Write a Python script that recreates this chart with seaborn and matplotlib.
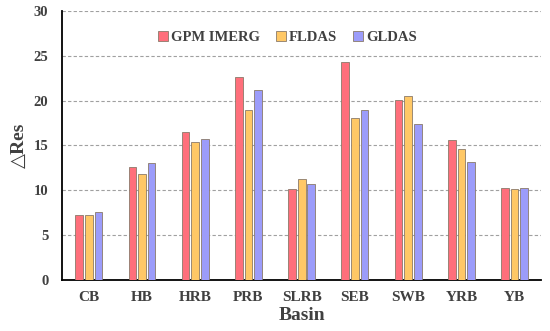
import pandas as pd
import matplotlib
matplotlib.use('Agg')
import matplotlib.pyplot as plt
import seaborn as sns

# Datos
basins = ['CB', 'HB', 'HRB', 'PRB', 'SLRB', 'SEB', 'SWB', 'YRB', 'YB']
gpm_imerg = [7.3, 12.6, 16.5, 22.6, 10.2, 24.3, 20.1, 15.6, 10.3]
fldas = [7.3, 11.8, 15.4, 19.0, 11.3, 18.1, 20.5, 14.6, 10.1]
gldas = [7.6, 13.0, 15.7, 21.2, 10.7, 18.9, 17.4, 13.2, 10.3]
products = ['GPM IMERG', 'FLDAS', 'GLDAS']
colors = ['#FF6F7B', '#FFC866', '#9C9CFA']

df = pd.DataFrame({
    'Basin': basins * 3,
    'Res': gpm_imerg + fldas + gldas,
    'Product': [p for p in products for _ in basins],
})

sns.set_style('white')
plt.rcParams['font.family'] = ['Liberation Serif', 'DejaVu Serif']
text_col = '#404040'

fig = plt.figure(figsize=(5.5, 3.31), dpi=100)
ax = fig.add_axes([0.113, 0.154, 0.871, 0.813])

sns.barplot(data=df, x='Basin', y='Res', hue='Product', palette=colors,
            saturation=1, width=0.54, gap=0.2, edgecolor='#8a7a6a', linewidth=0.6,
            ax=ax, zorder=3)

ax.set_ylim(0, 30)
ax.set_yticks(range(0, 31, 5))
ax.set_xlim(-0.5, 8.5)
ax.yaxis.grid(True, linestyle=(0, (3, 2)), color='#a0a0a0', linewidth=0.8, zorder=0)
ax.set_axisbelow(True)

for s in ['top', 'right']:
    ax.spines[s].set_visible(False)
ax.spines['left'].set_color('black')
ax.spines['bottom'].set_color('black')
ax.spines['left'].set_linewidth(1.3)
ax.spines['bottom'].set_linewidth(1.3)

ax.tick_params(axis='y', length=0, labelsize=10.5, labelcolor=text_col, pad=10)
ax.tick_params(axis='x', length=0, labelsize=11, labelcolor=text_col, pad=8)
for lab in ax.get_xticklabels() + ax.get_yticklabels():
    lab.set_fontweight('bold')

ax.set_xlabel('Basin', fontsize=14, fontweight='bold', color=text_col, labelpad=2)
ax.set_ylabel('△Res', fontsize=14, fontweight='bold', color=text_col, labelpad=4)

leg = ax.legend(loc='upper center', bbox_to_anchor=(0.47, 0.975), ncol=3, frameon=False,
                handlelength=0.7, handleheight=0.7, handletextpad=0.2, columnspacing=1.1,
                prop={'weight': 'bold', 'size': 10.5})
for t in leg.get_texts():
    t.set_color(text_col)

fig.savefig('out.png', dpi=100)
